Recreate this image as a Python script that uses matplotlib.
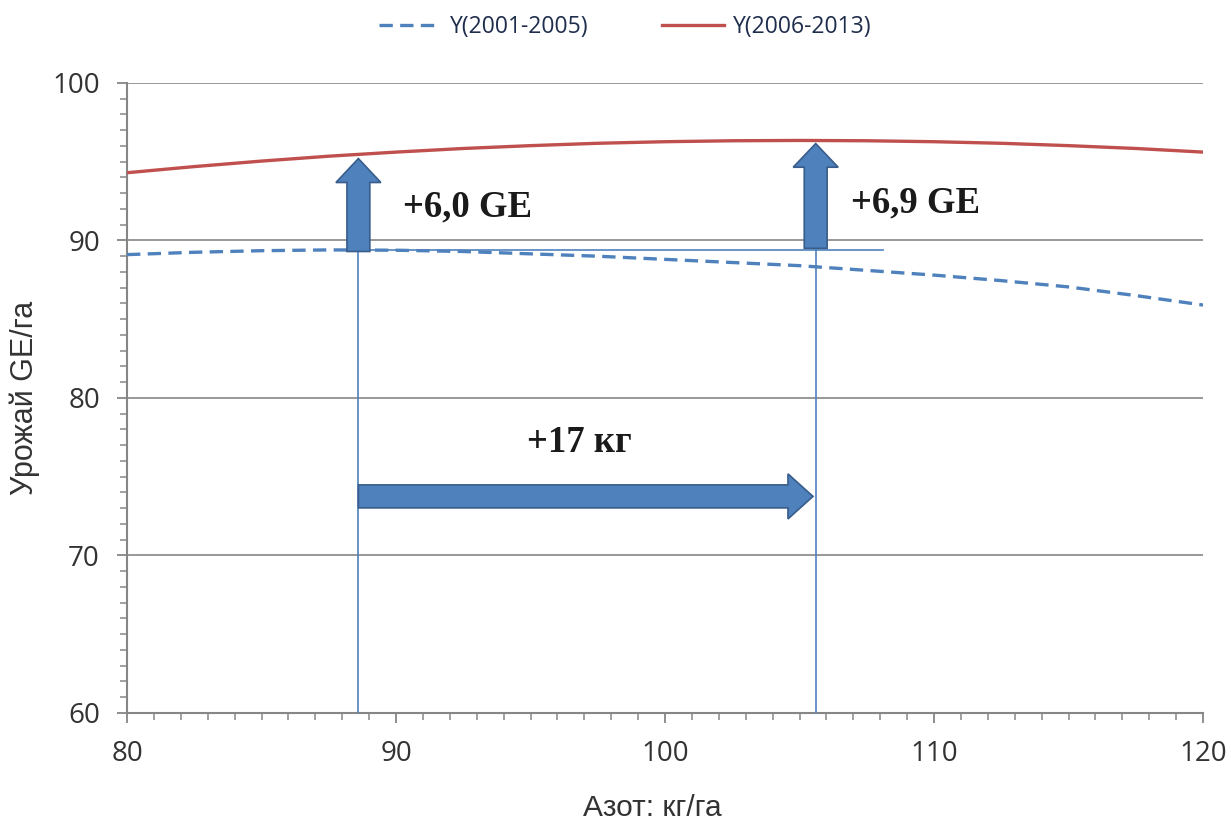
import matplotlib
matplotlib.use("Agg")
import matplotlib.pyplot as plt
import matplotlib.patches as mpatches
from matplotlib.ticker import MultipleLocator

# ---- data ----
nitrogen = [80, 82.5, 85, 87.5, 90, 92.5, 95, 97.5, 100, 102.5, 105, 107.5, 110, 112.5, 115, 117.5, 120]
y_2001_2005 = [89.1, 89.25, 89.35, 89.4, 89.38, 89.3, 89.15, 89.0, 88.8, 88.6, 88.4, 88.1, 87.8, 87.45, 87.05, 86.5, 85.9]
y_2006_2013 = [94.3, 94.69, 95.04, 95.35, 95.61, 95.84, 96.02, 96.17, 96.27, 96.33, 96.35, 96.33, 96.27, 96.17, 96.02, 95.84, 95.61]
series_labels = ["Y(2001-2005)", "Y(2006-2013)"]
x_ticks = [80, 90, 100, 110, 120]
y_ticks = [60, 70, 80, 90, 100]
n_old_opt = 88.6
n_new_opt = 105.6
y_old_opt = 89.4
annotations = ["+6,0 GE", "+6,9 GE", "+17 кг"]

BLUE = "#4F81BD"
RED = "#C0504D"
GRAY = "#868686"

fig = plt.figure(figsize=(12.31, 8.23), dpi=100)
ax = fig.add_axes([0.1032, 0.1337, 0.8741, 0.7655])

l1, = ax.plot(nitrogen, y_2001_2005, color=BLUE, lw=2.4, label=series_labels[0], zorder=4)
l1.set_dashes((4, 2.2))
l2, = ax.plot(nitrogen, y_2006_2013, color=RED, lw=2.4, label=series_labels[1], zorder=4)

ax.set_xlim(80, 120)
ax.set_ylim(60, 100)
ax.set_xticks(x_ticks)
ax.set_yticks(y_ticks)
ax.xaxis.set_minor_locator(MultipleLocator(1))
ax.yaxis.set_minor_locator(MultipleLocator(1))
ax.grid(axis="y", which="major", color=GRAY, lw=1.2, zorder=1)
ax.set_axisbelow(True)
for s in ["top", "right"]:
    ax.spines[s].set_visible(False)
for s in ["left", "bottom"]:
    ax.spines[s].set_color(GRAY)
    ax.spines[s].set_linewidth(1.5)
ax.tick_params(which="major", direction="out", length=7.5, width=1.3, color=GRAY,
               labelsize=20, pad=12, labelcolor="#333333")
ax.tick_params(which="minor", direction="out", length=5, width=1.1, color=GRAY)
for lab in ax.get_xticklabels() + ax.get_yticklabels():
    lab.set_fontfamily("Open Sans")

ax.set_xlabel("Азот: кг/га", fontsize=21.5, family="Liberation Sans", color="#333333", va="center")
ax.set_ylabel("Урожай GE/га", fontsize=22, family="Liberation Sans", color="#333333", va="center")
ax.xaxis.set_label_coords(0.488, -0.151)
ax.yaxis.set_label_coords(-0.0948, 0.5)

# reference lines
ax.plot([n_old_opt, n_old_opt], [60, y_old_opt], color=BLUE, lw=1.2, zorder=3)
ax.plot([n_new_opt, n_new_opt], [60, y_old_opt], color=BLUE, lw=1.2, zorder=3)
ax.plot([n_old_opt, 108.1], [y_old_opt, y_old_opt], color=BLUE, lw=1.2, zorder=3)

# arrows
arrow_kw = dict(length_includes_head=True, facecolor=BLUE, edgecolor="#385D8A", lw=1.2, zorder=5)
ax.add_patch(mpatches.FancyArrow(n_old_opt, 89.3, 0, 95.2 - 89.3, width=0.85,
                                 head_width=1.67, head_length=1.52, **arrow_kw))
ax.add_patch(mpatches.FancyArrow(n_new_opt, 89.5, 0, 96.15 - 89.5, width=0.85,
                                 head_width=1.67, head_length=1.5, **arrow_kw))
ax.add_patch(mpatches.FancyArrow(n_old_opt, 73.75, 105.5 - n_old_opt, 0, width=1.46,
                                 head_width=2.86, head_length=0.93, **arrow_kw))

tkw = dict(fontsize=26.5, fontweight="bold", family="Liberation Serif", color="#1a1a1a", zorder=6)
ax.text(90.26, 92.1, annotations[0], ha="left", va="center", **tkw)
ax.text(106.9, 92.4, annotations[1], ha="left", va="center", **tkw)
ax.text(96.8, 77.2, annotations[2], ha="center", va="center", **tkw)

leg = fig.legend(handles=[l1, l2], loc="center", bbox_to_anchor=(0.508, 0.967), ncol=2,
                 frameon=False, handlelength=2.7, columnspacing=3.2, handletextpad=0.4,
                 prop={"family": "Open Sans", "size": 16.5})
for t in leg.get_texts():
    t.set_color("#1f2d4d")

fig.savefig("out.png", dpi=100)
